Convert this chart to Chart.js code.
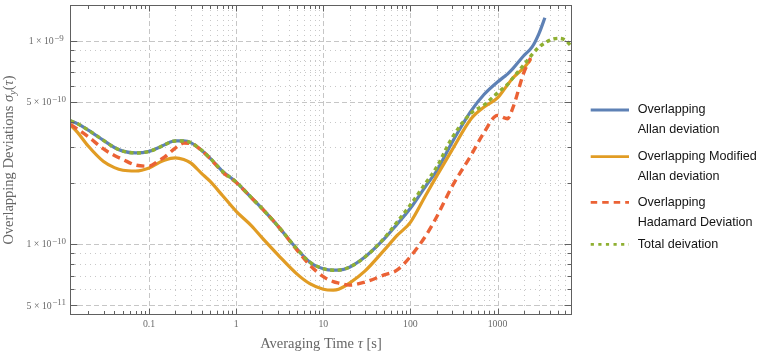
<!DOCTYPE html>
<html><head><meta charset="utf-8">
<script src="https://cdn.jsdelivr.net/npm/chart.js@4"></script>
<style>html,body{margin:0;padding:0;background:#fff}#wrap{width:761px;height:354px}</style>
</head><body><div id="wrap"><canvas id="c" width="761" height="354"></canvas></div>
<script>
// averaging time tau [s]
const tau = [0.0125,0.015,0.02,0.03,0.04,0.05,0.07,0.1,0.13,0.15,0.2,0.25,0.3,0.4,0.5,0.7,1,1.5,2,3,5,7,10,13,15,20,30,50,70,100,150,200,300,500,700,1000,1200,1300,1500,2000,2400,2500,3000,3500,4000,5000,6000,7000];
// Overlapping Allan deviation
const adev = [4.04e-10,3.92e-10,3.64e-10,3.24e-10,2.99e-10,2.87e-10,2.81e-10,2.86e-10,2.99e-10,3.08e-10,3.22e-10,3.22e-10,3.16e-10,2.90e-10,2.65e-10,2.28e-10,2.02e-10,1.69e-10,1.49e-10,1.23e-10,9.45e-11,8.15e-11,7.57e-11,7.44e-11,7.45e-11,7.70e-11,8.63e-11,1.06e-10,1.25e-10,1.50e-10,1.93e-10,2.29e-10,3.16e-10,4.54e-10,5.45e-10,6.28e-10,6.68e-10,6.87e-10,7.31e-10,8.46e-10,null,9.34e-10,1.09e-9,1.30e-9,null,null,null,null];
// Overlapping Modified Allan deviation
const mdev = [3.86e-10,3.56e-10,3.04e-10,2.55e-10,2.38e-10,2.31e-10,2.29e-10,2.37e-10,2.52e-10,2.59e-10,2.66e-10,2.61e-10,2.51e-10,2.23e-10,2.04e-10,1.73e-10,1.45e-10,1.23e-10,1.07e-10,8.88e-11,7.12e-11,6.39e-11,6.00e-11,5.94e-11,6.00e-11,6.43e-11,7.36e-11,9.34e-11,1.10e-10,1.28e-10,1.74e-10,2.16e-10,2.90e-10,4.15e-10,4.73e-10,5.24e-10,5.80e-10,6.07e-10,6.57e-10,7.37e-10,8.10e-10,null,null,null,null,null,null,null];
// Overlapping Hadamard deviation
const hdev = [3.88e-10,3.69e-10,3.38e-10,2.94e-10,2.73e-10,2.61e-10,2.45e-10,2.42e-10,2.58e-10,2.68e-10,2.97e-10,3.14e-10,3.13e-10,2.89e-10,2.64e-10,2.26e-10,2.01e-10,1.69e-10,1.49e-10,1.23e-10,9.34e-11,7.88e-11,6.92e-11,6.54e-11,6.43e-11,6.28e-11,6.50e-11,7.05e-11,7.44e-11,8.68e-11,1.10e-10,1.36e-10,1.92e-10,2.75e-10,3.54e-10,4.30e-10,4.18e-10,4.14e-10,4.68e-10,6.96e-10,8.25e-10,null,null,null,null,null,null,null];
// Total deviation
const totdev = [4.04e-10,3.92e-10,3.64e-10,3.24e-10,2.99e-10,2.87e-10,2.81e-10,2.86e-10,2.99e-10,3.08e-10,3.22e-10,3.22e-10,3.16e-10,2.90e-10,2.65e-10,2.28e-10,2.02e-10,1.69e-10,1.49e-10,1.23e-10,9.45e-11,8.15e-11,7.57e-11,7.44e-11,7.45e-11,7.70e-11,8.63e-11,1.07e-10,1.28e-10,1.56e-10,2.00e-10,2.39e-10,3.33e-10,4.42e-10,4.84e-10,5.55e-10,5.93e-10,6.10e-10,6.57e-10,7.62e-10,null,8.58e-10,9.34e-10,9.78e-10,1.01e-9,1.03e-9,1.01e-9,9.45e-10];

const seriesNames = [['Overlapping','Allan deviation'],['Overlapping Modified','Allan deviation'],['Overlapping','Hadamard Deviation'],['Total deivation']];
const xTickValues = [0.1,1,10,100,1000];
const xTickLabels = ['0.1','1','10','100','1000'];
const yTickValues = [1e-9,5e-10,1e-10,5e-11];
const yTickMantissa = ['1','5','1','5'];
const yTickExponent = ['\u22129','\u221210','\u221210','\u221211'];
const xTitle = ['Averaging Time ', '\u03c4', ' [s]'];
const yTitle = 'Overlapping Deviations ';

const colors = ['#5E81B5','#E19C24','#EB6235','#8FB032'];
const dashes = [[],[],[8,5],[4,3.5]];

const X_MIN = 0.01236, X_MAX = 7165, Y_MIN = 4.478e-11, Y_MAX = 1.503e-9;

function pts(arr){ return tau.map((t,i)=>({x:t,y:arr[i]})); }

const xMinor = [], yMinor = [];
for (let e=-2;e<=3;e++) for (let m=2;m<=9;m++){ const v=m*Math.pow(10,e); if(v>X_MIN&&v<X_MAX) xMinor.push(v); }
for (let e=-11;e<=-9;e++) for (let m=1;m<=9;m++){ const v=m*Math.pow(10,e); if(v>Y_MIN&&v<Y_MAX && !yTickValues.some(t=>Math.abs(t-v)/t<1e-6)) yMinor.push(v); }

function hl(ctx,x1,y1,x2,y2){ctx.beginPath();ctx.moveTo(x1,y1);ctx.lineTo(x2,y2);ctx.stroke();}

const deco = {
  id:'deco',
  beforeDatasetsDraw(chart){
    const {ctx, chartArea:a, scales:{x,y}} = chart;
    ctx.save();
    ctx.beginPath(); ctx.rect(a.left,a.top,a.right-a.left,a.bottom-a.top); ctx.clip();
    ctx.lineWidth=1;
    ctx.strokeStyle='#c8c8c8'; ctx.setLineDash([1,4]);
    xMinor.filter(v=>v>=0.2).forEach(v=>{const p=Math.round(x.getPixelForValue(v))+0.5; hl(ctx,p,a.top,p,a.bottom);});
    yMinor.forEach(v=>{const p=Math.round(y.getPixelForValue(v))+0.5; hl(ctx,a.left,p,a.right,p);});
    ctx.strokeStyle='#c6c6c6'; ctx.setLineDash([5,3]);
    xTickValues.forEach(v=>{const p=Math.round(x.getPixelForValue(v))+0.5; hl(ctx,p,a.top,p,a.bottom);});
    yTickValues.forEach(v=>{const p=Math.round(y.getPixelForValue(v))+0.5; hl(ctx,a.left,p,a.right,p);});
    ctx.restore();
  },
  afterDraw(chart){
    const {ctx, chartArea:a, scales:{x,y}} = chart;
    ctx.save();
    const L=Math.round(a.left)+0.5, R=Math.round(a.right)-0.5, T=Math.round(a.top)+0.5, B=Math.round(a.bottom)-0.5;
    ctx.strokeStyle='#606060'; ctx.lineWidth=1; ctx.setLineDash([]);
    ctx.strokeRect(L,T,R-L,B-T);
    // ticks
    xTickValues.forEach(v=>{const p=Math.round(x.getPixelForValue(v))+0.5; hl(ctx,p,B,p,B-6); hl(ctx,p,T,p,T+6);});
    xMinor.forEach(v=>{const p=Math.round(x.getPixelForValue(v))+0.5; hl(ctx,p,B,p,B-3.5); hl(ctx,p,T,p,T+3.5);});
    yTickValues.forEach(v=>{const p=Math.round(y.getPixelForValue(v))+0.5; hl(ctx,L,p,L+7,p); hl(ctx,R,p,R-7,p);});
    yMinor.forEach(v=>{const p=Math.round(y.getPixelForValue(v))+0.5; hl(ctx,L,p,L+4,p); hl(ctx,R,p,R-4,p);});
    // tick labels
    ctx.fillStyle='#6a6a6a';
    ctx.font='9.8px "Liberation Serif"'; ctx.textAlign='center'; ctx.textBaseline='alphabetic';
    xTickValues.forEach((v,i)=>{ctx.fillText(xTickLabels[i], x.getPixelForValue(v), 327);});
    yTickValues.forEach((v,i)=>{
      const py=y.getPixelForValue(v);
      const base=yTickMantissa[i]+' \u00d7 10', ex=yTickExponent[i];
      ctx.font='9.8px "Liberation Serif"'; const bw=ctx.measureText(base).width;
      ctx.font='9px "Liberation Serif"'; const ew=ctx.measureText(ex).width;
      const sx=46-(bw+ew)/2;
      ctx.textAlign='left';
      ctx.font='9.8px "Liberation Serif"'; ctx.fillText(base,sx,py+3.3);
      ctx.font='9px "Liberation Serif"'; ctx.fillText(ex,sx+bw+0.5,py-0.3);
    });
    // axis titles
    ctx.fillStyle='#666';
    const fN='14.5px "Liberation Serif"', fI='italic 14.5px "Liberation Serif"';
    ctx.textAlign='left';
    ctx.font=fN; const w0=ctx.measureText(xTitle[0]).width, w2=ctx.measureText(xTitle[2]).width;
    ctx.font=fI; const w1=ctx.measureText(xTitle[1]).width;
    let sx=(a.left+a.right)/2-(w0+w1+w2)/2;
    ctx.font=fN; ctx.fillText(xTitle[0],sx,347.5);
    ctx.font=fI; ctx.fillText(xTitle[1],sx+w0,347.5);
    ctx.font=fN; ctx.fillText(xTitle[2],sx+w0+w1,347.5);
    // y title (rotated)
    ctx.save();
    ctx.translate(13,(a.top+a.bottom)/2); ctx.rotate(-Math.PI/2);
    const parts=[[yTitle,fN,0],['\u03c3',fI,0],['y','italic 10.5px "Liberation Serif"',3],['(',fN,0],['\u03c4',fI,0],[')',fN,0]];
    let tw=0; parts.forEach(p=>{ctx.font=p[1]; p.push(ctx.measureText(p[0]).width); tw+=p[3];});
    let cx=-tw/2;
    parts.forEach(p=>{ctx.font=p[1]; ctx.fillText(p[0],cx,p[2]); cx+=p[3];});
    ctx.restore();
    // legend
    const lineY=[110,156.7,202.3,244.3];
    const textY=[[113.3,133.3],[159.7,179.5],[205.7,225.7],[248.3]];
    ctx.font='12.6px "Liberation Sans"'; ctx.fillStyle='#141414'; ctx.textAlign='left';
    chart.data.datasets.forEach((ds,i)=>{
      ctx.strokeStyle=ds.borderColor; ctx.lineWidth=2.8; ctx.setLineDash(i===2?[6.5,5]:(i===3?[3.2,4.4]:[]));
      hl(ctx,590.7,lineY[i],629,lineY[i]);
      seriesNames[i].forEach((t,j)=>ctx.fillText(t,637.7,textY[i][j]));
    });
    ctx.restore();
  }
};

const widths=[3.2,3.2,3.4,3.4];
const orders=[3,2,1,0];
new Chart(document.getElementById('c'),{
  type:'line',
  data:{datasets:[adev,mdev,hdev,totdev].map((arr,i)=>({
    label:seriesNames[i].join(' '), data:pts(arr), borderColor:colors[i], backgroundColor:colors[i],
    borderWidth:widths[i], borderDash:dashes[i], pointRadius:0, fill:false, spanGaps:true,
    cubicInterpolationMode:'monotone', order:orders[i], clip:0, borderCapStyle:'butt'
  }))},
  options:{
    responsive:false, animation:false, devicePixelRatio:1,
    layout:{padding:{left:70,top:5,right:189,bottom:39}},
    plugins:{legend:{display:false},tooltip:{enabled:false}},
    scales:{
      x:{type:'logarithmic',min:X_MIN,max:X_MAX,display:false},
      y:{type:'logarithmic',min:Y_MIN,max:Y_MAX,display:false}
    }
  },
  plugins:[deco]
});
</script>
</body></html>
